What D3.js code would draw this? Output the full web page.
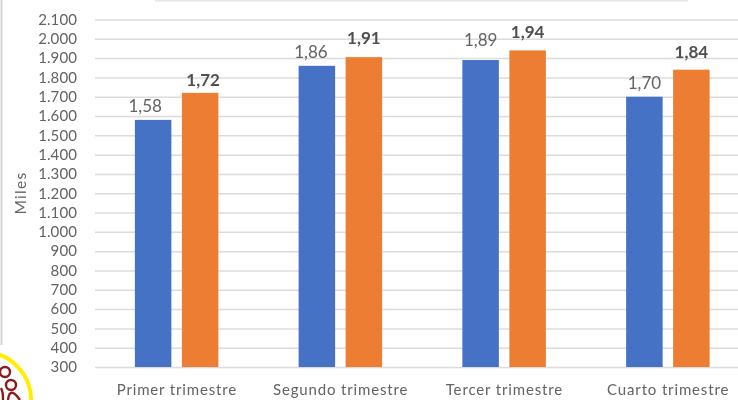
<!DOCTYPE html>
<html>
<head>
<meta charset="utf-8">
<script src="https://cdnjs.cloudflare.com/ajax/libs/d3/7.8.5/d3.min.js"></script>
<style>
html,body{margin:0;padding:0;background:#fff;overflow:hidden}
svg{display:block}
text{font-family:Lato,"Open Sans",sans-serif;fill:#595959}
</style>
</head>
<body>
<svg id="chart" width="738" height="400"></svg>
<script>
const categories = ["Primer trimestre","Segundo trimestre","Tercer trimestre","Cuarto trimestre"];
const seriesA = [1580,1860,1890,1700];
const seriesB = [1720,1905,1940,1840];
const labelsA = ["1,58","1,86","1,89","1,70"];
const labelsB = ["1,72","1,91","1,94","1,84"];
const yTicks = [300,400,500,600,700,800,900,1000,1100,1200,1300,1400,1500,1600,1700,1800,1900,2000,2100];
const yTitle = "Miles";
const colorA = "#4472c4", colorB = "#ed7d31";

const svg = d3.select("#chart");
const defs = svg.append("defs");
defs.append("filter").attr("id","soft").append("feGaussianBlur").attr("stdDeviation",0.45);

const y = d3.scaleLinear().domain([300,2100]).range([367,19.5]);
const x = d3.scaleBand().domain(categories).range([95,750]).paddingInner(0).paddingOuter(0);
const sub = d3.scaleOrdinal().domain(["a","b"]).range([-42,5]);
const barW = 36.5;
const fmt = d => { const s = String(d); return s.length>3 ? s.slice(0,-3)+"."+s.slice(-3) : s; };

// hand placement of the data labels, as the original chart has them dragged around
const nudgeA = [{dx:-8,dy:-14},{dx:-6,dy:-14},{dx:0,dy:-20},{dx:0,dy:-14}];
const nudgeB = [{dx:3,dy:-13},{dx:0,dy:-19},{dx:0,dy:-18},{dx:0,dy:-18}];

const g = svg.append("g").attr("filter","url(#soft)");

// left edge of the cropped frame
g.append("line").attr("x1",1.5).attr("x2",1.5).attr("y1",0).attr("y2",345)
 .attr("stroke","#d4d4d4").attr("stroke-width",2);

// remnant of the title cut off by the crop
g.append("line").attr("x1",155).attr("x2",688).attr("y1",0.5).attr("y2",0.5)
 .attr("stroke","#e6e6e6").attr("stroke-width",2);

// gridlines + y labels
const yAxis = g.append("g").attr("transform","translate(95,0)")
  .call(d3.axisLeft(y).tickValues(yTicks).tickFormat(fmt).tickSize(-655).tickPadding(18));
yAxis.select(".domain").remove();
yAxis.selectAll(".tick line").attr("stroke","#dcdcdc").attr("stroke-width",1.5);
yAxis.selectAll(".tick text").attr("font-size",15).attr("letter-spacing",0.1).style("fill","#636363").attr("dy","0.32em");

// x labels
const xAxis = g.append("g").attr("transform","translate(0,367)")
  .call(d3.axisBottom(x).tickSize(0).tickPadding(17));
xAxis.select(".domain").remove();
xAxis.selectAll(".tick text").attr("font-size",15).attr("letter-spacing",0.85).style("fill","#636363");

// bars
const groups = g.selectAll(".grp").data(categories).join("g").attr("class","grp")
  .attr("transform",d=>`translate(${x(d)+x.bandwidth()/2},0)`);
groups.append("rect").attr("x",sub("a")).attr("width",barW)
  .attr("y",(d,i)=>y(seriesA[i])).attr("height",(d,i)=>y(300)-y(seriesA[i])).attr("fill",colorA);
groups.append("rect").attr("x",sub("b")).attr("width",barW)
  .attr("y",(d,i)=>y(seriesB[i])).attr("height",(d,i)=>y(300)-y(seriesB[i])).attr("fill",colorB);

groups.append("text").attr("x",(d,i)=>sub("a")+barW/2+nudgeA[i].dx).attr("y",(d,i)=>y(seriesA[i])+nudgeA[i].dy)
  .attr("dy","0.35em").attr("text-anchor","middle").attr("font-size",17).style("fill","#636363").text((d,i)=>labelsA[i]);
groups.append("text").attr("x",(d,i)=>sub("b")+barW/2+nudgeB[i].dx).attr("y",(d,i)=>y(seriesB[i])+nudgeB[i].dy)
  .attr("dy","0.35em").attr("text-anchor","middle").attr("font-size",17).attr("font-weight",700).style("fill","#4f4f4f").text((d,i)=>labelsB[i]);

// axis title
g.append("text").attr("transform","translate(26,193) rotate(-90)").attr("text-anchor","middle")
  .attr("font-size",15.5).attr("letter-spacing",1.3).style("fill","#636363").text(yTitle);

// badge in the corner
const logo = svg.append("g");
logo.append("circle").attr("cx",-17).attr("cy",400).attr("r",48).attr("fill","#fff").attr("stroke","#ffee00").attr("stroke-width",4);
const red = "#8c1c1c";
[[5,372],[11,385]].forEach(c=>logo.append("circle").attr("cx",c[0]).attr("cy",c[1]).attr("r",5).attr("fill","none").attr("stroke",red).attr("stroke-width",2.4));
const curve = d3.line().curve(d3.curveBasis);
logo.append("path").attr("d",curve([[8,400],[9,393],[14,392],[20,400]])).attr("fill","none").attr("stroke",red).attr("stroke-width",2.4);
logo.append("path").attr("d",curve([[1,388],[3,393],[3,400]])).attr("fill","none").attr("stroke",red).attr("stroke-width",2.4);
</script>
</body>
</html>
